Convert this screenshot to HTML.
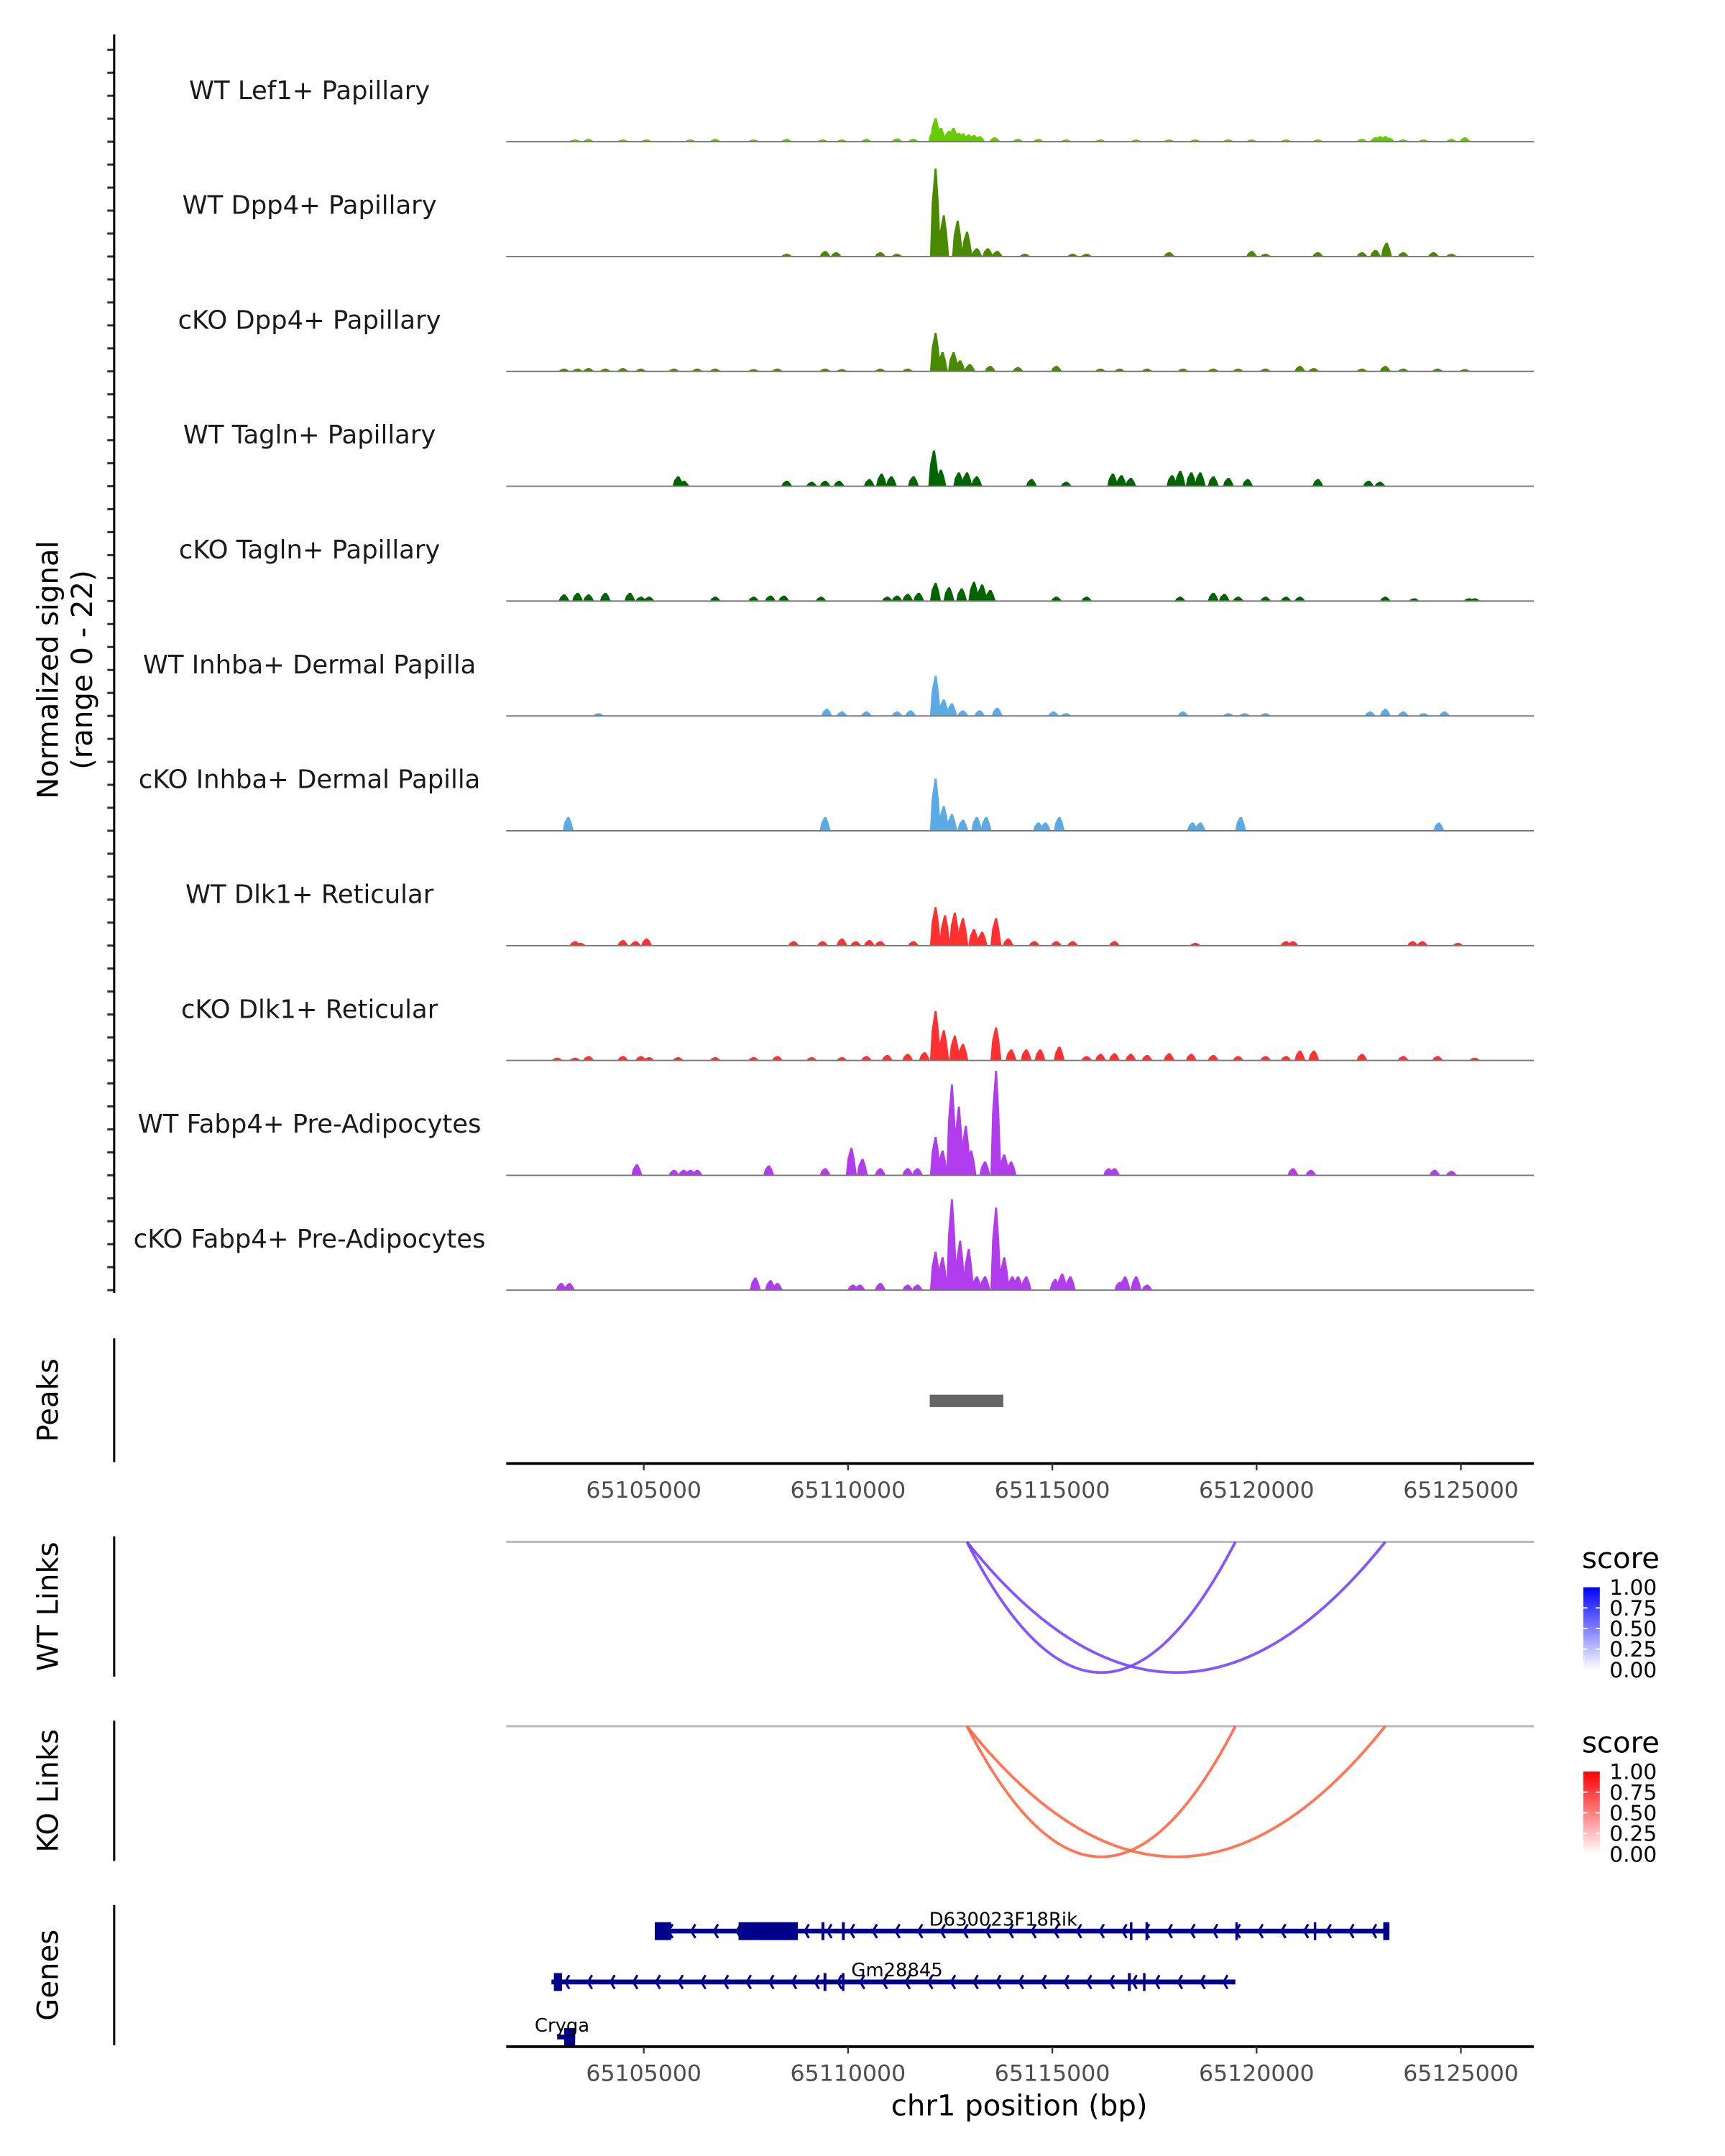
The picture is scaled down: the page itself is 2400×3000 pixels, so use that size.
<!DOCTYPE html>
<html><head><meta charset="utf-8"><style>
html,body{margin:0;padding:0;background:#fff}
svg{display:block}
text{font-family:"DejaVu Sans","Liberation Sans",sans-serif}
</style></head><body>
<svg id="fig" width="2400" height="3000" viewBox="0 0 1254 1567.5" xmlns="http://www.w3.org/2000/svg">
<g id="tracks"></g>
<text transform="translate(42,487) rotate(-90)" text-anchor="middle" font-size="21" fill="#000">Normalized signal</text>
<text transform="translate(67,487) rotate(-90)" text-anchor="middle" font-size="21" fill="#000">(range 0 - 22)</text>
<line x1="83" y1="25" x2="83" y2="940" stroke="#000" stroke-width="1.6"/>
<g id="peaks"></g>
<g id="links"></g>
<g id="genes"></g>
<g id="axes"></g>
</svg>
<script>
// ---- data (positions in kb offset from chr1:65,100,000; signal 0-22) ----
const trackNames = ["WT Lef1+ Papillary","WT Dpp4+ Papillary","cKO Dpp4+ Papillary","WT Tagln+ Papillary","cKO Tagln+ Papillary","WT Inhba+ Dermal Papilla","cKO Inhba+ Dermal Papilla","WT Dlk1+ Reticular","cKO Dlk1+ Reticular","WT Fabp4+ Pre-Adipocytes","cKO Fabp4+ Pre-Adipocytes"];
const trackColors = ["#66cc00","#4a8a00","#4a8a00","#006400","#006400","#5aaae6","#5aaae6","#ff3030","#ff3030","#b03cee","#b03cee"];
const posT1 = [3.32,3.65,4.49,5.07,6.14,6.75,7.69,8.50,9.38,9.85,10.45,11.20,11.60,12.10,12.14,12.27,12.47,12.58,12.71,12.81,12.95,13.08,13.22,13.59,14.16,14.66,15.34,16.18,17.05,17.86,18.50,19.31,19.88,20.72,21.50,22.58,22.91,23.02,23.15,23.25,23.59,24.09,24.77,25.10];
const valT1 = [0.4,0.5,0.4,0.4,0.4,0.5,0.4,0.5,0.4,0.4,0.5,0.6,0.5,2,4.3,2.5,2,2.5,1.6,1.5,1.3,1.2,1,0.8,0.5,0.5,0.4,0.4,0.4,0.4,0.4,0.4,0.4,0.4,0.4,0.5,0.8,1,1,0.7,0.4,0.4,0.5,0.8];
const posT2 = [8.50,9.44,9.71,10.79,11.20,12.14,12.34,12.68,12.91,13.15,13.42,13.65,14.33,15.50,15.84,17.86,19.88,20.22,21.50,22.58,22.91,23.18,23.59,24.33,24.77];
const valT2 = [0.5,1,0.8,0.8,0.5,16,7.5,6.5,4.5,1.5,1.5,1,0.5,0.5,0.5,0.8,1,0.5,0.8,0.8,1.2,2.5,0.8,0.8,0.5];
const posT3 = [3.05,3.38,3.65,4.06,4.49,4.93,5.74,6.31,6.75,7.69,8.27,9.44,9.85,10.79,11.46,12.14,12.31,12.58,12.74,12.98,13.48,14.16,15.10,16.18,16.65,17.32,18.20,18.94,19.55,20.22,21.06,21.40,22.58,23.15,23.59,24.43,25.10];
const valT3 = [0.5,0.5,0.6,0.5,0.6,0.5,0.5,0.5,0.5,0.4,0.5,0.5,0.4,0.5,0.5,7,3.5,3.5,2,1.3,1,0.8,1,0.5,0.5,0.5,0.5,0.5,0.5,0.5,1,0.6,0.5,1,0.5,0.5,0.4];
const posT4 = [5.84,5.98,8.50,9.11,9.44,9.78,10.52,10.82,11.06,11.60,12.10,12.27,12.71,12.91,13.15,14.49,15.34,16.48,16.69,16.92,17.93,18.13,18.40,18.62,18.94,19.31,19.78,21.50,22.74,23.02];
const valT4 = [1.8,1,1,0.8,1,1,1.3,2.3,1.8,1.8,6.5,3,2.5,2.5,1.8,1.3,0.8,2.3,2,1.5,2,2.8,2.5,2.5,1.8,1.5,1.3,1.3,1,0.8];
const posT5 = [3.05,3.38,3.65,4.06,4.66,4.93,5.13,6.75,7.69,8.10,8.43,9.34,10.96,11.20,11.46,11.73,12.14,12.47,12.78,13.08,13.28,13.48,15.10,15.84,18.13,18.94,19.21,19.55,20.22,20.72,21.06,23.15,23.86,25.20,25.34];
const valT5 = [1.2,1.5,1.2,1.5,1.5,0.8,0.8,0.8,0.8,1,1,0.8,0.8,1,1.3,1.5,3.3,2.5,2.3,3.5,3,2,0.8,0.8,0.8,1.5,1.3,0.8,0.8,0.8,0.8,0.8,0.5,0.5,0.5];
const posT6 = [3.89,9.48,9.85,10.45,11.20,11.53,12.14,12.34,12.54,12.81,13.22,13.65,15.03,15.34,18.20,19.31,19.71,20.22,22.78,23.15,23.59,24.09,24.60];
const valT6 = [0.5,1.3,0.8,0.8,0.8,1,7.3,3,2.3,1,1,1.5,0.8,0.5,0.8,0.5,0.5,0.5,0.8,1.3,0.8,0.5,0.8];
const posT7 = [3.15,9.44,12.14,12.34,12.54,12.81,13.15,13.38,14.66,14.83,15.17,18.43,18.62,19.61,24.46];
const valT7 = [2.5,2.5,9.5,4.5,3,2,2.5,2.5,1.5,1.5,2.5,1.5,1.5,2.5,1.5];
const posT8 = [3.32,3.45,4.49,4.80,5.07,8.67,9.38,9.85,10.19,10.52,10.79,11.60,12.14,12.37,12.61,12.81,13.08,13.28,13.62,13.92,14.56,15.10,15.50,16.52,18.50,20.72,20.89,23.82,24.06,24.93];
const valT8 = [0.8,0.5,1,0.8,1.3,0.8,0.8,1.3,0.8,1,0.8,0.8,7,5.5,6,5,3,2.5,5,1.3,0.8,0.8,0.8,0.8,0.5,0.8,0.8,0.8,0.8,0.5];
const posT9 = [2.88,3.32,3.65,4.49,4.93,5.13,5.84,6.75,7.69,8.27,9.11,9.85,10.45,10.96,11.46,11.87,12.14,12.34,12.61,12.81,13.62,13.99,14.36,14.70,15.17,15.84,16.18,16.52,16.92,17.32,17.86,18.40,18.94,19.55,20.22,20.72,21.06,21.40,22.58,23.59,24.43,25.34];
const valT9 = [0.5,0.5,0.8,0.8,0.8,0.6,0.6,0.6,0.6,0.8,0.6,0.6,0.8,1,1.2,1.5,9,5.5,4.5,3,6,2,2,2,2.5,0.8,1.2,1.3,1.2,1,1.3,1.2,1,0.8,0.8,0.8,1.8,1.8,1.2,0.8,0.8,0.5];
const posT10 = [4.83,5.74,5.98,6.14,6.31,8.06,9.44,10.08,10.35,10.79,11.46,11.70,12.14,12.31,12.54,12.71,12.88,13.01,13.35,13.62,13.82,13.99,16.38,16.52,20.89,21.33,24.36,24.77];
const valT10 = [2,1,1,1,1,1.8,1.3,5,3,1.3,1.3,1.3,7,4.5,16.5,12.5,9,4.5,2.5,19,3.8,2.5,1.3,1.3,1.3,1,1,0.8];
const posT11 = [2.98,3.18,7.73,8.10,8.27,10.12,10.29,10.79,11.46,11.70,12.14,12.31,12.54,12.74,12.95,13.15,13.35,13.62,13.82,14.02,14.16,14.36,15.07,15.24,15.44,16.65,16.78,17.05,17.32];
const valT11 = [1.3,1.3,2.3,1.8,1.3,1,1,1.3,1,1,7,6,16.5,9,7.5,2.5,2.5,15,6,2.5,2.5,2.5,2,3,2.5,1.5,2.5,2.5,1];
const trackPos = [posT1,posT2,posT3,posT4,posT5,posT6,posT7,posT8,posT9,posT10,posT11];
const trackVal = [valT1,valT2,valT3,valT4,valT5,valT6,valT7,valT8,valT9,valT10,valT11];
const peakStarts = [12.0];
const peakEnds = [13.80];
const linkStarts = [12.91,12.91];
const linkEnds = [19.48,23.15];
const linkScores = [0.8,0.8];
const tickKb = [5,10,15,20,25];
const tickLabels = ["65105000","65110000","65115000","65120000","65125000"];
const geneNames = ["D630023F18Rik","Gm28845","Cryga"];
const geneStarts = [5.27,2.74,2.88];
const geneEnds = [23.25,19.48,3.32];
const geneExons = [[[5.27,5.67],[7.32,8.77],[9.35,9.42],[9.85,9.92],[16.90,16.96],[17.28,17.34],[19.48,19.54],[21.40,21.46],[23.10,23.25]],[[2.80,3.00],[9.40,9.47],[9.85,9.90],[16.85,16.92],[17.22,17.28]],[[3.05,3.32]]];
const geneLabelKb = [13.8,11.2,3.0];

// ---- scales ----
const NS="http://www.w3.org/2000/svg";
const X0=368, X1=1115;
function xs(kb){return 468+(kb-5)*29.7;}
const trackBase=[103,186.5,270,353.5,437,520.5,604,687.5,771,854.5,938];
const trackH=88; // px for 22 units
function ys(v,b){return b-v/22*trackH;}
function el(tag,attrs,parent){const e=document.createElementNS(NS,tag);for(const k in attrs)e.setAttribute(k,attrs[k]);parent.appendChild(e);return e;}

const gT=document.getElementById('tracks');
for(let t=0;t<trackNames.length;t++){
  const b=trackBase[t];
  const lab=el('text',{x:225,y:b-31,'text-anchor':'middle','font-size':'18.5',fill:'#1a1a1a'},gT);
  lab.textContent=trackNames[t];
  
  
  const P=trackPos[t],V=trackVal[t];
  let d='';
  for(let i=0;i<P.length;i++){
    const x=xs(P[i]),w=4,y=ys(V[i],b),ym=ys(V[i]*0.6,b);
    d+='M'+(x-w)+','+b+'L'+(x-w*0.7)+','+ym+'L'+(x-0.6)+','+y+'L'+(x+0.8)+','+y+'L'+(x+w*0.6)+','+ym+'L'+(x+w)+','+b+'Z';
  }
  const p=el('path',{d:d,fill:trackColors[t]},gT);
  
  
  const bl=el('line',{x1:X0,x2:X1,y1:b,y2:b,stroke:'#777','stroke-width':1},gT);
  
  
  for(let k=0;k<5;k++){
    const ty=b-k*16.7;
    const tk=el('line',{x1:78,x2:83,y1:ty,y2:ty,stroke:'#333','stroke-width':1.6},gT);
    
    
  }
}

// peaks
const gP=document.getElementById('peaks');
el('line',{x1:83,x2:83,y1:973,y2:1063,stroke:'#000','stroke-width':1.6},gP);
const pl=el('text',{transform:'translate(42,1018) rotate(-90)','text-anchor':'middle','font-size':'21'},gP);pl.textContent='Peaks';


for(let i=0;i<peakStarts.length;i++){
  const r=el('rect',{x:xs(peakStarts[i]),y:1014,width:xs(peakEnds[i])-xs(peakStarts[i]),height:9,fill:'#666'},gP);
  
  
}

// axes
const gA=document.getElementById('axes');
function xaxis(y,ly){
  el('line',{x1:X0,x2:X1,y1:y,y2:y,stroke:'#000','stroke-width':2},gA);
  for(let i=0;i<tickKb.length;i++){
    el('line',{x1:xs(tickKb[i]),x2:xs(tickKb[i]),y1:y,y2:y+5,stroke:'#333','stroke-width':1.2},gA);
    const t=el('text',{x:xs(tickKb[i]),y:ly,'text-anchor':'middle','font-size':'16.5',fill:'#4d4d4d'},gA);
    t.textContent=tickLabels[i];
    
    
  }
}
xaxis(1064,1089);
xaxis(1488,1513);
const xt=el('text',{x:741,y:1538,'text-anchor':'middle','font-size':'21'},gA);xt.textContent='chr1 position (bp)';



// links
const gL=document.getElementById('links');
const panels=[{name:'WT Links',top:1117,bot:1219,base:1121,color:'#7744ff',full:'#0000ff',leg:1132},{name:'KO Links',top:1251,bot:1353,base:1255,color:'#ff6644',full:'#ff0000',leg:1266}];
const defs=el('defs',{},gL);
panels.forEach((pn,pi)=>{
  el('line',{x1:83,x2:83,y1:pn.top,y2:pn.bot,stroke:'#000','stroke-width':1.6},gL);
  const lt=el('text',{transform:'translate(42,'+((pn.top+pn.bot)/2)+') rotate(-90)','text-anchor':'middle','font-size':'21'},gL);lt.textContent=pn.name;
  
  
  el('line',{x1:X0,x2:X1,y1:pn.base,y2:pn.base,stroke:'#bbb','stroke-width':1.6},gL);
  for(let i=0;i<linkStarts.length;i++){
    const a=xs(linkStarts[i]),c=xs(linkEnds[i]),depth=(pn.bot-3-pn.base)*2;
    const p=el('path',{d:'M'+a+','+pn.base+' Q'+((a+c)/2)+','+(pn.base+depth)+' '+c+','+pn.base,fill:'none',stroke:pn.color,'stroke-width':2,'stroke-opacity':0.5+0.5*linkScores[i]},gL);
    
    
  }
  const gid='grad'+pi;
  const lg=el('linearGradient',{id:gid,x1:0,y1:1,x2:0,y2:0},defs);
  el('stop',{offset:0,'stop-color':'#fff'},lg);el('stop',{offset:1,'stop-color':pn.full},lg);
  const st=el('text',{x:1150,y:pn.leg+8,'font-size':'21'},gL);st.textContent='score';
  
  
  const cbTop=pn.leg+22;
  const cb=el('rect',{x:1151,y:cbTop,width:12,height:60,fill:'url(#'+gid+')'},gL);
  
  
  ['1.00','0.75','0.50','0.25','0.00'].forEach((s,k)=>{
    const ty=cbTop+k*15;
    if(k>0&&k<4){el('line',{x1:1151,x2:1154,y1:ty,y2:ty,stroke:'#fff','stroke-width':1},gL);el('line',{x1:1160,x2:1163,y1:ty,y2:ty,stroke:'#fff','stroke-width':1},gL);}
    const tx=el('text',{x:1170,y:ty+5.5,'font-size':'15.5'},gL);tx.textContent=s;
    
    
  });
});

// genes
const gG=document.getElementById('genes');
el('line',{x1:83,x2:83,y1:1385,y2:1487,stroke:'#000','stroke-width':1.6},gG);
const gl=el('text',{transform:'translate(42,1436) rotate(-90)','text-anchor':'middle','font-size':'21'},gG);gl.textContent='Genes';


const geneY=[1404,1441,1481];
for(let g=0;g<geneNames.length;g++){
  const y=geneY[g],a=xs(geneStarts[g]),c=xs(geneEnds[g]);
  const ln=el('line',{x1:a,x2:c,y1:y,y2:y,stroke:'#00008b','stroke-width':3.5},gG);
  
  
  let d='';
  for(let x=a+10;x<c-4;x+=16.5){d+='M'+(x+3)+','+(y-5)+'L'+x+','+y+'L'+(x+3)+','+(y+5);}
  el('path',{d:d,fill:'none',stroke:'#00008b','stroke-width':1.6},gG);
  geneExons[g].forEach(ex=>{
    const w=Math.max(xs(ex[1])-xs(ex[0]),1.8);
    const r=el('rect',{x:xs(ex[0]),y:y-6.5,width:w,height:13,fill:'#00008b'},gG);
    
    
  });
  const t=el('text',{x:xs(geneLabelKb[g]),y:y-4,'text-anchor':'middle','font-size':'13.5',fill:'#000'},gG);
  t.textContent=geneNames[g];
  
  
}
</script>
</body></html>
